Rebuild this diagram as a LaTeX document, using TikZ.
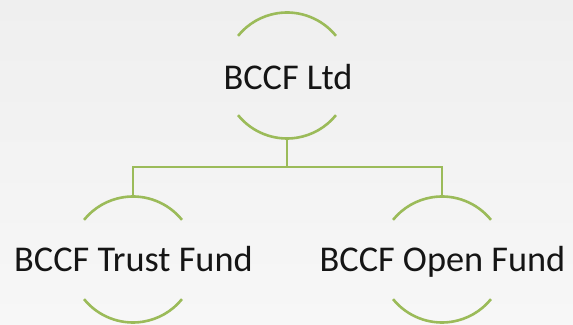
\documentclass[tikz,border=0pt]{standalone}
\usepackage{fontspec}
\setmainfont{Carlito}
\definecolor{linegreen}{HTML}{9BBB59}
\definecolor{bgtop}{HTML}{EFEFEF}
\definecolor{bgbot}{HTML}{F7F7F7}
\definecolor{txt}{HTML}{151515}
\begin{document}
\begin{tikzpicture}[x=1pt,y=1pt,
  ring/.style={circle,minimum size=126pt,inner sep=0pt,draw=none},
  label/.style={font=\fontsize{36.3}{42}\selectfont,text=txt,inner sep=0pt,anchor=base},
  arcline/.style={draw=linegreen,line width=2.6pt},
  conn/.style={draw=linegreen,line width=2.6pt}]
\shade[top color=bgtop,bottom color=bgbot] (0,0) rectangle (573,324);
\useasboundingbox (0,0) rectangle (573,324);
\node[ring] (c0) at (287,248.5) {};
\node[ring] (c1) at (133,64.5) {};
\node[ring] (c2) at (442,64.5) {};
\foreach \n in {c0,c1,c2}{
  \draw[arcline] (\n.center) ++(39:63) arc (39:141:63);
  \draw[arcline] (\n.center) ++(219:63) arc (219:321:63);
}
\coordinate (bus) at (287,157);
\draw[conn] (c0.south) -- (bus);
\draw[conn] (bus) -| (c1.north);
\draw[conn] (bus) -| (c2.north);
\node[label] (t0) at (288,234) {BCCF Ltd};
\node[label] (t1) at (133.5,52) {BCCF Trust Fund};
\node[label] (t2) at (442.5,52) {BCCF Open Fund};
\end{tikzpicture}
\end{document}
